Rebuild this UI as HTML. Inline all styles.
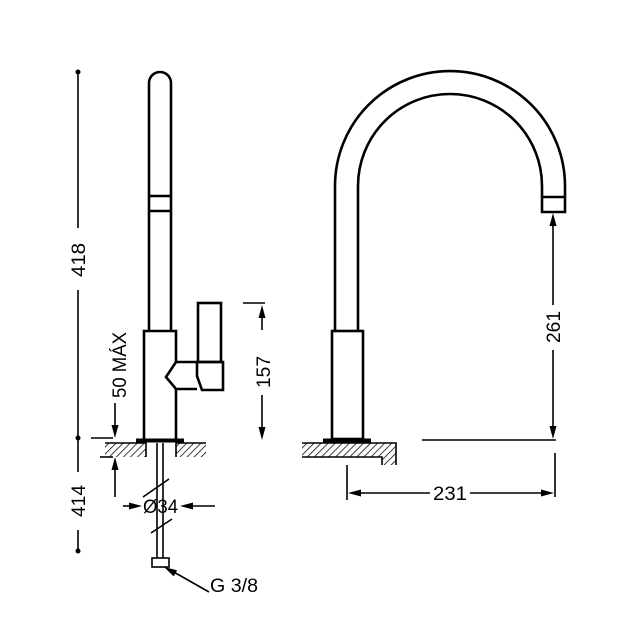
<!DOCTYPE html>
<html><head><style>html,body{margin:0;padding:0;background:#fff}svg{display:block}text{font-family:"Liberation Sans",sans-serif;font-size:19px;fill:#000}</style></head>
<body>
<svg width="620" height="620" viewBox="0 0 620 620" xmlns="http://www.w3.org/2000/svg">
<defs>
<pattern id="h" patternUnits="userSpaceOnUse" width="5" height="5" patternTransform="rotate(45)">
<line x1="0" y1="0" x2="0" y2="5" stroke="#000" stroke-width="1.5"/>
</pattern>
</defs>
<g fill="none" stroke="#000" stroke-width="2.6">
<!-- left faucet -->
<path d="M149,331 V83 A11,11 0 0 1 171,83 V331"/>
<line x1="149" y1="196" x2="171" y2="196"/>
<line x1="149" y1="211" x2="172" y2="211"/>
<path d="M144,439 V331 H176 V362 M176,389 V439"/>
<path d="M176,362 H197 M176,362 L166,377 L176,389 H197"/>
<rect x="198" y="303" width="23" height="59"/>
<path d="M197,362 H223 V390 H202 L197,376 Z"/>
<line x1="136" y1="440.5" x2="184" y2="440.5" stroke-width="4"/>
<rect x="105" y="443" width="41" height="14" fill="url(#h)" stroke="none"/>
<rect x="176" y="443" width="30" height="14" fill="url(#h)" stroke="none"/>
<path d="M105,443 H146 V457 M176,457 V443 H206" stroke-width="1.6"/>
<path d="M157,443 V558 M163,443 V558" stroke-width="1.6"/>
<rect x="152" y="558" width="17" height="9" stroke-width="1.6"/>
<!-- left dims -->
<g stroke-width="1.6">
<line x1="78" y1="72" x2="78" y2="228"/>
<line x1="78" y1="290" x2="78" y2="472"/>
<line x1="78" y1="530" x2="78" y2="551"/>
<line x1="91" y1="438" x2="113" y2="438"/>
<line x1="100" y1="457" x2="113" y2="457"/>
<line x1="115" y1="403" x2="115" y2="430"/>
<line x1="115" y1="497" x2="115" y2="465"/>
<line x1="123" y1="506" x2="134" y2="506"/>
<line x1="215" y1="506" x2="188" y2="506"/>
<line x1="143" y1="497" x2="169" y2="479"/>
<line x1="151" y1="533" x2="172" y2="519"/>
<line x1="209" y1="592" x2="172" y2="571"/>
<line x1="243" y1="303" x2="265" y2="303"/>
<line x1="262" y1="330" x2="262" y2="313"/>
<line x1="262" y1="395" x2="262" y2="432"/>
</g>
<!-- right faucet -->
<path d="M335,331 V186 A115,115 0 0 1 565,186 V212 H542 V186 A92,92 0 0 0 358,186 V331"/>
<line x1="542" y1="197" x2="565" y2="197"/>
<rect x="332" y="331" width="31" height="108"/>
<line x1="323" y1="440.5" x2="371" y2="440.5" stroke-width="4"/>
<path d="M302,443 H396 V465 H382 V457 H302 Z" fill="url(#h)" stroke="none"/>
<path d="M302,443 H396 V465 M382,465 V457 H302" stroke-width="1.6"/>
<g stroke-width="1.6">
<line x1="422" y1="440" x2="556" y2="440"/>
<line x1="553" y1="305" x2="553" y2="222"/>
<line x1="553" y1="350" x2="553" y2="430"/>
<line x1="347" y1="465" x2="347" y2="500"/>
<line x1="555" y1="453" x2="555" y2="497"/>
<line x1="430" y1="493" x2="356" y2="493"/>
<line x1="470" y1="493" x2="546" y2="493"/>
</g>
</g>
<g fill="#000">
<polygon points="111.5,425 118.5,425 115,438"/>
<polygon points="111.5,470 118.5,470 115,457"/>
<polygon points="129,502.5 129,509.5 142,506"/>
<polygon points="193,502.5 193,509.5 180,506"/>
<polygon points="164,567 177.1,570.2 173.7,576.4"/>
<polygon points="258.5,318 265.5,318 262,305"/>
<polygon points="258.5,427 265.5,427 262,440"/>
<polygon points="549.5,226 556.5,226 553,213"/>
<polygon points="549.5,426 556.5,426 553,439"/>
<polygon points="361,489.5 361,496.5 348,493"/>
<polygon points="541,489.5 541,496.5 554,493"/>
<circle cx="78" cy="72" r="2.5"/><circle cx="78" cy="438" r="2.5"/><circle cx="78" cy="551" r="2.5"/>
</g>
<text transform="translate(85,260) rotate(-90)" text-anchor="middle" textLength="34" lengthAdjust="spacingAndGlyphs">418</text>
<text transform="translate(85,501) rotate(-90)" text-anchor="middle" textLength="32" lengthAdjust="spacingAndGlyphs">414</text>
<text transform="translate(126,365) rotate(-90)" text-anchor="middle" textLength="66" lengthAdjust="spacingAndGlyphs">50 MÁX</text>
<text transform="translate(270,372) rotate(-90)" text-anchor="middle" textLength="32" lengthAdjust="spacingAndGlyphs">157</text>
<text transform="translate(560,327) rotate(-90)" text-anchor="middle" textLength="32" lengthAdjust="spacingAndGlyphs">261</text>
<text x="143" y="513" textLength="35" lengthAdjust="spacingAndGlyphs">Ø34</text>
<text x="210" y="592" textLength="48" lengthAdjust="spacingAndGlyphs">G 3/8</text>
<text x="450" y="500" text-anchor="middle" textLength="34" lengthAdjust="spacingAndGlyphs">231</text>
</svg>
</body></html>
